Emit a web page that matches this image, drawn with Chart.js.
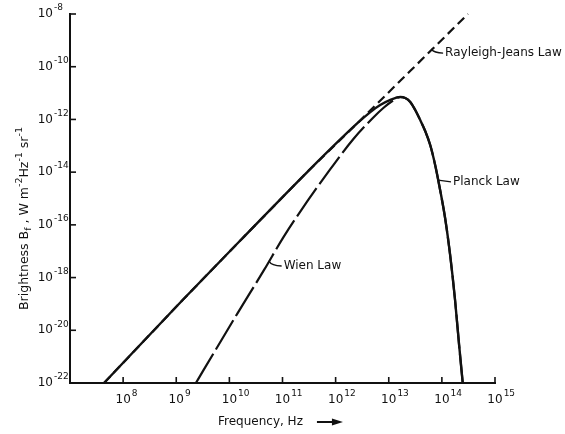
<!DOCTYPE html>
<html lang="en">
<head>
<meta charset="UTF-8">
<title>Planck, Rayleigh-Jeans and Wien laws</title>
<script src="https://cdn.jsdelivr.net/npm/chart.js"></script>
<style>
    html, body { margin: 0; padding: 0; background: #fff; }
    .chart-container { position: relative; width: 565px; height: 434px; }
</style>
</head>
<body>
<div class="chart-container"><canvas id="lawsChart"></canvas></div>
<script>
// values: frequency in Hz, brightness in W m^-2 Hz^-1 sr^-1
const planckFreq = [4.37e7, 1.32e9, 1.64e10, 2.92e11, 2.57e12, 4.5e12, 6.9e12, 1.07e13, 1.65e13, 2.04e13, 2.54e13, 3.15e13, 3.91e13, 4.85e13, 6.03e13, 7.47e13, 9.27e13, 1.15e14, 1.43e14, 1.77e14, 2.11e14, 2.47e14];
const planckB = [1e-22, 1.41e-19, 2.67e-17, 1.01e-14, 7.2e-13, 1.9e-12, 3.5e-12, 5.5e-12, 7.1e-12, 6.5e-12, 4.6e-12, 2.28e-12, 9.5e-13, 3.64e-13, 1.07e-13, 1.87e-14, 2.1e-15, 1.82e-16, 7.2e-18, 1.41e-19, 2.77e-21, 1e-22];

const rjFreq = [4.37e7, 1.32e9, 1.64e10, 2.92e11, 2.57e12, 2.5e13, 3.1e14];
const rjB = [1e-22, 1.41e-19, 2.67e-17, 1.01e-14, 7.2e-13, 6.7e-11, 1e-8];

const wienFreq = [2.34e9, 3.3e9, 1.44e10, 4.5e10, 1.05e11, 2.96e11, 8.0e11, 2.16e12, 4.91e12, 7.9e12, 1.17e13, 1.65e13, 2.04e13, 2.54e13, 3.15e13, 3.91e13, 4.85e13, 6.03e13, 7.47e13, 9.27e13, 1.15e14, 1.43e14, 1.77e14, 2.11e14, 2.47e14];
const wienB = [1e-22, 3.2e-22, 4.6e-20, 1.95e-18, 3.5e-17, 8.05e-16, 1.32e-14, 1.81e-13, 1.09e-12, 2.72e-12, 5.0e-12, 7.1e-12, 6.5e-12, 4.6e-12, 2.28e-12, 9.5e-13, 3.64e-13, 1.07e-13, 1.87e-14, 2.1e-15, 1.82e-16, 7.2e-18, 1.41e-19, 2.77e-21, 1e-22];

// tick labels are powers of ten
const xTickExps = [8, 9, 10, 11, 12, 13, 14, 15];
const yTickExps = [-8, -10, -12, -14, -16, -18, -20, -22];

const FONT = '"DejaVu Sans", sans-serif';
const INK = '#111';

function toPoints(xs, ys) {
    return xs.map((x, i) => ({ x: x, y: ys[i] }));
}

function drawPower(ctx, x, y, exp, align) {
    const base = '10';
    const sup = String(exp);
    ctx.font = '12px ' + FONT;
    const bw = ctx.measureText(base).width;
    const bx = align === 'center' ? x - bw / 2 : x - bw;
    ctx.textAlign = 'left';
    ctx.textBaseline = 'middle';
    ctx.fillText(base, bx, y);
    ctx.font = '9px ' + FONT;
    ctx.fillText(sup, bx + bw + 1, y - 6);
}

function drawRich(ctx, parts, x, y) {
    let total = 0;
    parts.forEach(p => {
        ctx.font = (p.s ? '9.5px ' : '12.5px ') + FONT;
        p.w = ctx.measureText(p.t).width;
        total += p.w;
    });
    let cx = x - total / 2;
    ctx.textAlign = 'left';
    ctx.textBaseline = 'middle';
    parts.forEach(p => {
        ctx.font = (p.s ? '9.5px ' : '12.5px ') + FONT;
        const dy = p.s === 'sup' ? -5 : (p.s === 'sub' ? 4 : 0);
        ctx.fillText(p.t, cx, y + dy);
        cx += p.w;
    });
}

// curve labels with their small leader strokes (data space)
const curveNotes = [
    { text: 'Rayleigh-Jeans Law', from: [6.3e13, 4.7e-10], to: [1.15e14, 3.3e-10] },
    { text: 'Planck Law', from: [8.5e13, 5.0e-15], to: [1.62e14, 4.3e-15], straight: true },
    { text: 'Wien Law', from: [5.5e10, 4.3e-18], to: [1.05e11, 2.75e-18] }
];

const axisDecor = {
    id: 'axisDecor',
    afterDraw(chart) {
        const { ctx, chartArea, scales: { x, y } } = chart;
        ctx.save();
        ctx.strokeStyle = INK;
        ctx.fillStyle = INK;
        ctx.lineWidth = 1.6;

        // x ticks point up into the plot
        xTickExps.forEach(e => {
            const px = x.getPixelForValue(Math.pow(10, e));
            ctx.beginPath();
            ctx.moveTo(px, chartArea.bottom);
            ctx.lineTo(px, chartArea.bottom - 6);
            ctx.stroke();
            drawPower(ctx, px, chartArea.bottom + 17, e, 'center');
        });

        // y ticks point right into the plot
        yTickExps.forEach(e => {
            const py = y.getPixelForValue(Math.pow(10, e));
            ctx.beginPath();
            ctx.moveTo(chartArea.left, py);
            ctx.lineTo(chartArea.left + 6, py);
            ctx.stroke();
            drawPower(ctx, chartArea.left - 17, py, e, 'right');
        });

        // axis titles
        ctx.save();
        ctx.translate(25, (chartArea.top + chartArea.bottom) / 2 + 20);
        ctx.rotate(-Math.PI / 2);
        drawRich(ctx, [
            { t: 'Brightness B' }, { t: 'f', s: 'sub' }, { t: ' , W m' }, { t: '-2', s: 'sup' },
            { t: 'Hz' }, { t: '-1', s: 'sup' }, { t: ' sr' }, { t: '-1', s: 'sup' }
        ], 0, 0);
        ctx.restore();

        ctx.font = '12px ' + FONT;
        ctx.textAlign = 'left';
        ctx.textBaseline = 'middle';
        const tx = 218, ty = chartArea.bottom + 39;
        ctx.fillText('Frequency, Hz', tx, ty);
        const ax = tx + ctx.measureText('Frequency, Hz').width + 14;
        ctx.lineWidth = 2;
        ctx.beginPath();
        ctx.moveTo(ax, ty);
        ctx.lineTo(ax + 18, ty);
        ctx.stroke();
        ctx.beginPath();
        ctx.moveTo(ax + 26, ty);
        ctx.lineTo(ax + 15, ty - 3.5);
        ctx.lineTo(ax + 15, ty + 3.5);
        ctx.closePath();
        ctx.fill();

        // curve labels
        ctx.lineWidth = 1.3;
        curveNotes.forEach(n => {
            const x0 = x.getPixelForValue(n.from[0]);
            const y0 = y.getPixelForValue(n.from[1]);
            const x1 = x.getPixelForValue(n.to[0]);
            const y1 = y.getPixelForValue(n.to[1]);
            ctx.beginPath();
            ctx.moveTo(x0, y0);
            if (n.straight) ctx.lineTo(x1 - 2, y1);
            else ctx.quadraticCurveTo(x0 + 3, y1, x1 - 2, y1);
            ctx.stroke();
            ctx.font = '12px ' + FONT;
            ctx.fillText(n.text, x1, y1);
        });
        ctx.restore();
    }
};

const axisStyle = {
    display: true,
    type: 'logarithmic',
    grid: { display: false, drawTicks: false },
    border: { display: true, color: INK, width: 2 },
    ticks: { display: false }
};

new Chart(document.getElementById('lawsChart').getContext('2d'), {
    type: 'scatter',
    data: {
        datasets: [{
            label: 'Planck Law',
            data: toPoints(planckFreq, planckB),
            showLine: true,
            borderColor: INK,
            borderWidth: 2.4,
            pointRadius: 0,
            cubicInterpolationMode: 'monotone',
            clip: false
        }, {
            label: 'Rayleigh-Jeans Law',
            data: toPoints(rjFreq, rjB),
            showLine: true,
            borderColor: INK,
            borderWidth: 2.2,
            borderDash: [9, 5],
            pointRadius: 0,
            clip: false
        }, {
            label: 'Wien Law',
            data: toPoints(wienFreq, wienB),
            showLine: true,
            borderColor: INK,
            borderWidth: 2.2,
            borderDash: [34, 5],
            pointRadius: 0,
            cubicInterpolationMode: 'monotone',
            clip: false
        }]
    },
    options: {
        responsive: true,
        maintainAspectRatio: false,
        animation: false,
        layout: { padding: { left: 70, right: 70, top: 14, bottom: 51 } },
        plugins: {
            legend: { display: false },
            tooltip: { enabled: false }
        },
        scales: {
            x: Object.assign({}, axisStyle, { min: 1e7, max: 1e15 }),
            y: Object.assign({}, axisStyle, { min: 1e-22, max: 1e-8 })
        }
    },
    plugins: [axisDecor]
});
</script>
</body>
</html>
